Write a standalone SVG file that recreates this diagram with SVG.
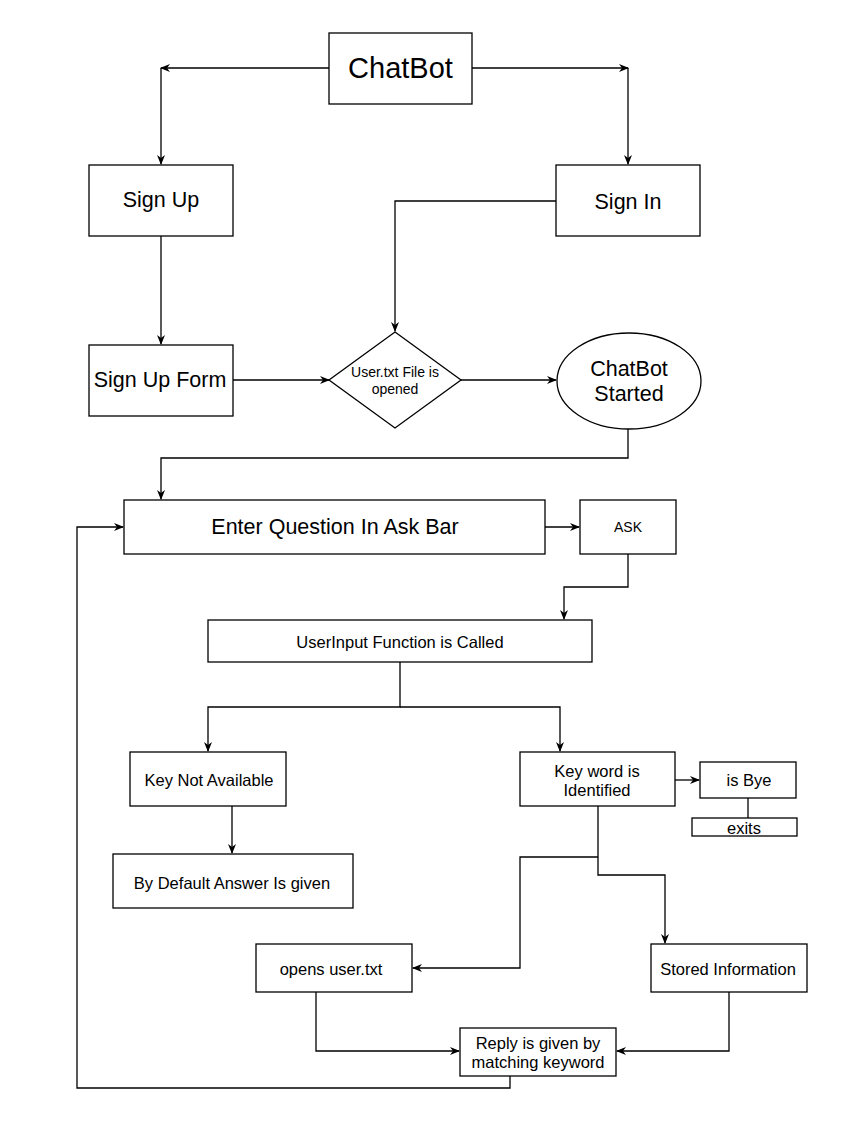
<svg xmlns="http://www.w3.org/2000/svg" width="853" height="1133" viewBox="0 0 853 1133">
<defs>
<marker id="arr" viewBox="0 0 10 10" refX="9" refY="5" markerWidth="10" markerHeight="10" markerUnits="userSpaceOnUse" orient="auto">
<path d="M0,1 L10,5 L0,9 L3,5 z" fill="#000"/>
</marker>
<style>
.n rect,.n path,.n ellipse{fill:#fff;stroke:#000;stroke-width:1.3}
.e path{fill:none;stroke:#000;stroke-width:1.3}
text{font-family:"Liberation Sans",Arial,Helvetica,sans-serif;fill:#000;text-anchor:middle;dominant-baseline:central}
.big{font-size:21.5px}
.sm{font-size:16.5px}
.xs{font-size:14px}
</style>
</defs>
<rect width="853" height="1133" fill="#fff"/>
<g id="edges" class="e">
<path d="M329,68 H161" marker-end="url(#arr)"/>
<path d="M161,68 V164" marker-end="url(#arr)"/>
<path d="M472,68 H628" marker-end="url(#arr)"/>
<path d="M628,68 V164" marker-end="url(#arr)"/>
<path d="M556,201 H395 V331" marker-end="url(#arr)"/>
<path d="M161,236 V344" marker-end="url(#arr)"/>
<path d="M233,380 H329" marker-end="url(#arr)"/>
<path d="M461,380 H556" marker-end="url(#arr)"/>
<path d="M628,429 V458 H161 V499" marker-end="url(#arr)"/>
<path d="M545,527 H579" marker-end="url(#arr)"/>
<path d="M628,554 V587 H564 V619" marker-end="url(#arr)"/>
<path d="M400,662 V707 H208 V751" marker-end="url(#arr)"/>
<path d="M400,707 H560 V751" marker-end="url(#arr)"/>
<path d="M232,806 V853" marker-end="url(#arr)"/>
<path d="M675,780 H699" marker-end="url(#arr)"/>
<path d="M748,798 V818"/>
<path d="M598,806 V875 H665 V943" marker-end="url(#arr)"/>
<path d="M598,857 H520 V968 H413" marker-end="url(#arr)"/>
<path d="M316,992 V1051 H459" marker-end="url(#arr)"/>
<path d="M729,992 V1051 H617" marker-end="url(#arr)"/>
<path d="M510,1076 V1088 H77 V527 H123" marker-end="url(#arr)"/>
</g>
<g id="chatbot" class="n"><rect x="329" y="33" width="143" height="71"/><text x="400.5" y="68" style="font-size:29px">ChatBot</text></g>
<g id="signup" class="n"><rect x="89" y="165" width="144" height="71"/><text x="161" y="200" class="big">Sign Up</text></g>
<g id="signin" class="n"><rect x="556" y="165" width="144" height="71"/><text x="628" y="202" class="big">Sign In</text></g>
<g id="signupform" class="n"><rect x="89" y="345" width="144" height="71"/><text x="160" y="380" class="big">Sign Up Form</text></g>
<g id="userfile" class="n"><path d="M395,332 L461,380 L395,428 L329,380 Z"/><text x="395" y="372" class="xs">User.txt File is</text><text x="395" y="389" class="xs">opened</text></g>
<g id="started" class="n"><ellipse cx="629" cy="381" rx="72" ry="48"/><text x="629" y="369" class="big">ChatBot</text><text x="629" y="394" class="big">Started</text></g>
<g id="enterq" class="n"><rect x="124" y="500" width="421" height="54"/><text x="335" y="527" class="big">Enter Question In Ask Bar</text></g>
<g id="ask" class="n"><rect x="580" y="500" width="96" height="54"/><text x="628" y="527" class="xs">ASK</text></g>
<g id="userinput" class="n"><rect x="208" y="620" width="384" height="42"/><text x="400" y="642" class="sm">UserInput Function is Called</text></g>
<g id="keynot" class="n"><rect x="130" y="752" width="156" height="54"/><text x="209" y="780" class="sm">Key Not Available</text></g>
<g id="keyword" class="n"><rect x="520" y="752" width="155" height="54"/><text x="597" y="771" class="sm">Key word is</text><text x="597" y="790" class="sm">Identified</text></g>
<g id="isbye" class="n"><rect x="700" y="762" width="96" height="36"/><text x="749" y="780" class="sm">is Bye</text></g>
<g id="exits" class="n"><rect x="692" y="818" width="105" height="18"/><text x="744" y="828" class="sm">exits</text></g>
<g id="default" class="n"><rect x="113" y="854" width="240" height="54"/><text x="232" y="883" class="sm">By Default Answer Is given</text></g>
<g id="opens" class="n"><rect x="256" y="944" width="156" height="48"/><text x="331" y="969" class="sm">opens user.txt</text></g>
<g id="stored" class="n"><rect x="651" y="944" width="156" height="48"/><text x="728" y="969" class="sm">Stored Information</text></g>
<g id="reply" class="n"><rect x="460" y="1028" width="156" height="48"/><text x="538" y="1043" class="sm">Reply is given by</text><text x="538" y="1062" class="sm">matching keyword</text></g>
</svg>
